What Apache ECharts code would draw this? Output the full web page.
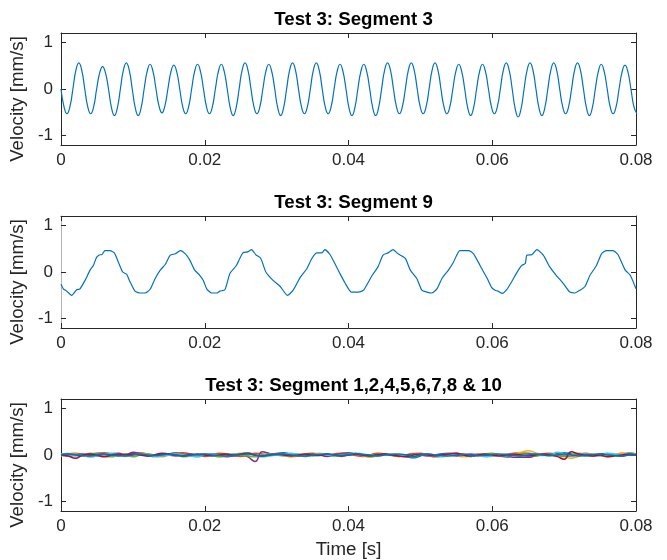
<!DOCTYPE html>
<html>
<head>
<meta charset="utf-8">
<script src="https://cdn.jsdelivr.net/npm/echarts@6/dist/echarts.min.js"></script>
<style>html,body{margin:0;padding:0;background:#fff}#c{width:667px;height:560px}</style>
</head>
<body>
<div id="c"></div>
<script>
// ---------- data ----------
const titles = ['Test 3: Segment 3', 'Test 3: Segment 9', 'Test 3: Segment 1,2,4,5,6,7,8 & 10'];
const yAxisName = 'Velocity [mm/s]';
const xAxisName = 'Time [s]';
const xTicks = [0, 0.02, 0.04, 0.06, 0.08];
const xTickLabels = ['0', '0.02', '0.04', '0.06', '0.08'];
const yTicks = [-1, 0, 1];
const yTickLabels = ['-1', '0', '1'];

// Segment 3: samples every eighth of a period (s)
const seg3Step = 0.000413;
const seg3Values = [
  0,-0.38,-0.53,-0.38,0,0.40,0.56,0.40,
  0,-0.38,-0.53,-0.38,0,0.34,0.48,0.34,
  0,-0.40,-0.57,-0.40,0,0.40,0.56,0.40,
  0,-0.40,-0.57,-0.40,0,0.37,0.53,0.37,
  0,-0.36,-0.51,-0.36,0,0.36,0.51,0.36,
  0,-0.38,-0.53,-0.38,0,0.37,0.53,0.37,
  0,-0.38,-0.53,-0.38,0,0.37,0.53,0.37,
  0,-0.40,-0.57,-0.40,0,0.40,0.56,0.40,
  0,-0.38,-0.53,-0.38,0,0.37,0.53,0.37,
  0,-0.40,-0.57,-0.40,0,0.40,0.56,0.40,
  0,-0.38,-0.53,-0.38,0,0.40,0.56,0.40,
  0,-0.38,-0.53,-0.38,0,0.37,0.53,0.37,
  0,-0.40,-0.57,-0.40,0,0.37,0.53,0.37,
  0,-0.40,-0.57,-0.40,0,0.40,0.56,0.40,
  0,-0.38,-0.53,-0.38,0,0.40,0.56,0.40,
  0,-0.38,-0.53,-0.38,0,0.40,0.56,0.40,
  0,-0.38,-0.53,-0.38,0,0.37,0.53,0.37,
  0,-0.40,-0.57,-0.40,0,0.37,0.53,0.37,
  0,-0.38,-0.53,-0.38,0,0.40,0.56,0.40,
  0,-0.42,-0.60,-0.42,0,0.40,0.56,0.40,
  0,-0.40,-0.57,-0.40,0,0.40,0.56,0.40,
  0,-0.38,-0.53,-0.38,0,0.40,0.56,0.40,
  0,-0.40,-0.57,-0.40,0,0.37,0.53,0.37,
  0,-0.38,-0.53,-0.38,0,0.36,0.51,0.36,
  0,-0.38,-0.53
];

// Segment 9: time (ms) and velocity
const seg9TimeMs = [0,0.32,0.79,1.48,2.18,2.64,3.34,4.04,4.5,4.96,5.43,5.66,6.12,6.82,7.42,7.98,8.58,9.14,9.6,10.3,11.0,11.7,12.4,13.1,13.8,14.5,15.2,15.9,16.6,17.3,17.9,18.6,19.3,19.8,20.27,20.96,21.66,22.1,22.8,23.5,24.4,25.3,26.0,26.5,27.1,27.8,28.5,29.5,30.5,31.5,32.3,33.3,34.2,34.9,35.6,36.3,36.7,37.4,38.1,38.8,39.5,40.4,41.4,42.1,43.3,44.1,44.8,45.5,46.2,46.9,47.9,48.6,49.5,50.2,50.9,51.6,52.3,53.0,53.9,54.6,55.5,56.7,57.4,58.3,59.3,59.9,60.4,60.8,61.4,62.0,62.7,63.4,64.1,64.6,64.8,65.5,66.2,67.1,68.0,68.9,69.9,70.8,71.5,72.2,72.9,73.6,74.5,75.2,75.9,76.8,77.5,78.5,79.2,80.0];
const seg9Values = [-0.26,-0.36,-0.41,-0.50,-0.38,-0.36,-0.18,0.04,0.14,0.32,0.37,0.37,0.46,0.46,0.41,0.21,0.0,-0.05,-0.21,-0.41,-0.45,-0.45,-0.37,-0.14,0.04,0.16,0.36,0.39,0.46,0.39,0.26,0.04,-0.07,-0.18,-0.36,-0.45,-0.45,-0.41,-0.38,-0.03,0.14,0.41,0.43,0.48,0.37,0.29,0.0,-0.18,-0.31,-0.50,-0.39,-0.11,0.07,0.29,0.41,0.41,0.48,0.38,0.18,-0.03,-0.23,-0.43,-0.43,-0.39,-0.07,0.11,0.36,0.41,0.48,0.39,0.29,0.04,-0.14,-0.39,-0.43,-0.45,-0.36,-0.14,0.04,0.21,0.46,0.46,0.39,0.14,-0.14,-0.33,-0.39,-0.41,-0.46,-0.38,-0.21,-0.02,0.14,0.18,0.36,0.37,0.48,0.36,0.11,-0.07,-0.25,-0.43,-0.45,-0.39,-0.31,-0.07,0.14,0.39,0.46,0.46,0.37,0.04,-0.07,-0.36];

// Other segments: sampled every 1 ms
const otherStep = 0.001;
const otherNames = ['Segment 1','Segment 2','Segment 4','Segment 5','Segment 6','Segment 7','Segment 8','Segment 10'];
const seg1 = [0.02,0.03,0.00,-0.02,0.01,0.04,0.02,0.00,-0.02,0.01,
  0.02,0.04,0.01,-0.02,0.00,0.02,0.05,0.02,-0.01,-0.03,
  0.00,0.02,0.00,-0.03,0.01,0.02,0.04,0.00,-0.02,0.02,
  0.03,0.05,0.01,-0.01,-0.03,0.00,0.02,-0.01,0.01,0.03,
  0.05,0.02,0.00,-0.02,0.01,0.02,0.00,-0.02,-0.03,-0.06,
  -0.02,0.02,0.00,0.02,0.04,0.01,-0.01,-0.03,0.00,0.02,
  0.00,-0.02,-0.04,0.00,0.02,0.04,0.01,-0.01,0.02,0.03,
  0.05,0.02,-0.01,-0.02,0.00,0.02,0.03,0.00,-0.02,0.01,
  0.02];
const seg2 = [0.00,0.02,0.04,0.01,-0.01,0.03,0.05,0.02,-0.01,0.02,
  0.04,0.05,0.02,0.00,-0.01,0.02,0.04,0.05,0.02,-0.01,
  -0.03,0.00,0.04,0.02,-0.01,-0.03,0.00,0.04,0.02,-0.01,
  0.02,0.00,-0.03,0.00,0.02,0.04,0.01,-0.01,0.02,0.04,
  0.02,-0.01,-0.03,0.00,0.04,0.02,-0.01,-0.03,0.00,0.02,
  0.04,0.00,-0.04,-0.02,0.02,0.04,0.01,-0.01,0.02,0.00,
  -0.02,0.00,0.02,0.04,0.05,0.02,-0.01,0.02,0.04,0.01,
  -0.01,-0.03,0.02,0.04,0.01,-0.01,-0.03,0.00,0.04,0.02,
  0.00];
const seg4 = [-0.02,0.00,0.02,0.00,-0.04,-0.02,0.00,0.03,0.00,-0.03,
  0.00,0.04,0.02,-0.02,-0.04,0.00,0.02,0.00,-0.03,0.00,
  0.02,0.00,-0.03,-0.04,0.00,0.04,0.02,-0.01,-0.03,0.00,
  0.02,0.00,-0.04,-0.02,0.00,0.02,0.04,0.00,-0.03,0.00,
  0.00,0.03,-0.02,-0.04,0.00,0.02,0.00,-0.03,0.00,0.04,
  0.02,0.00,-0.03,0.00,0.02,0.00,-0.04,-0.02,0.00,0.02,
  0.00,-0.02,0.00,0.03,0.06,0.09,0.05,0.01,-0.01,-0.03,
  -0.04,-0.07,-0.03,0.00,0.02,0.00,-0.02,0.00,0.04,0.02,
  0.00];
const seg5 = [0.00,-0.02,0.00,0.02,0.00,-0.02,0.00,0.02,0.04,0.00,
  0.06,0.03,-0.02,0.00,0.02,0.00,-0.02,0.00,0.02,0.00,
  -0.01,0.02,0.00,-0.03,-0.02,0.00,-0.04,-0.14,0.07,0.03,
  0.00,0.02,0.00,-0.02,0.00,0.02,0.00,-0.03,0.00,0.02,
  0.00,0.02,-0.01,-0.02,0.00,0.02,0.00,-0.02,0.00,0.02,
  0.00,-0.02,0.00,0.02,0.00,-0.02,0.00,0.02,0.00,-0.01,
  0.02,0.00,-0.03,-0.05,-0.05,-0.05,-0.02,0.00,0.02,0.00,
  -0.02,0.00,0.02,0.00,-0.02,0.00,0.02,0.00,-0.02,0.00,
  0.02];
const seg6 = [0.00,0.02,0.00,-0.02,0.04,0.02,-0.02,-0.04,0.00,0.02,
  -0.04,0.00,0.02,0.00,-0.02,0.00,0.02,-0.04,-0.02,0.00,
  0.02,0.00,-0.04,0.00,0.02,0.00,-0.02,-0.04,0.00,0.02,
  0.00,-0.02,0.00,0.02,0.00,-0.02,0.00,0.02,-0.01,-0.03,
  0.00,0.02,0.00,-0.04,-0.02,0.00,0.02,0.00,-0.02,-0.04,
  0.00,0.02,0.00,-0.02,0.00,0.02,0.00,-0.03,0.00,0.02,
  0.04,0.00,-0.02,0.00,0.02,0.00,-0.02,0.00,0.02,0.00,
  -0.02,0.00,0.04,0.00,-0.02,0.00,0.02,0.00,-0.01,0.05,
  0.02];
const seg7 = [0.02,0.00,-0.02,0.00,-0.04,-0.02,0.00,0.04,0.02,-0.02,
  0.00,0.02,0.00,-0.04,-0.02,0.00,0.02,0.00,-0.02,-0.04,
  0.00,0.02,0.00,-0.02,0.00,0.02,0.05,0.00,-0.04,-0.02,
  0.00,0.02,0.04,0.00,-0.02,0.00,0.02,0.00,-0.02,0.00,
  0.00,0.04,0.02,0.00,-0.02,0.00,0.02,0.00,-0.03,0.00,
  0.02,0.00,-0.02,-0.04,0.00,0.02,0.00,-0.02,0.00,-0.04,
  -0.02,0.00,0.02,0.00,-0.02,0.00,0.02,0.00,-0.02,0.06,
  0.03,-0.02,0.00,0.02,0.00,-0.02,0.04,0.02,0.00,0.04,
  0.00];
const seg8 = [0.00,-0.02,-0.07,0.00,0.02,0.00,-0.04,0.00,0.02,0.00,
  0.02,0.00,-0.02,0.00,0.04,0.02,0.00,-0.02,0.00,0.02,
  0.00,-0.02,0.00,0.02,0.00,0.02,0.04,0.00,-0.02,0.00,
  0.02,0.00,-0.02,0.00,0.02,0.00,-0.01,0.02,0.00,-0.02,
  0.00,0.02,0.00,-0.02,0.00,0.02,0.00,-0.02,-0.04,0.00,
  0.02,0.00,-0.02,0.00,0.02,0.04,0.00,-0.02,0.00,0.02,
  0.00,-0.02,0.00,0.02,0.00,-0.02,0.00,0.02,0.00,-0.03,
  -0.09,0.07,0.02,0.00,-0.02,0.00,-0.04,-0.02,0.00,0.02,
  0.00];
const seg10 = [0.00,0.02,0.00,-0.01,-0.02,0.00,0.02,0.00,-0.01,-0.02,
  0.00,0.02,0.00,-0.01,0.00,0.02,0.00,-0.02,0.00,0.01,
  0.02,0.00,-0.01,-0.02,0.00,0.01,0.02,0.00,-0.02,0.00,
  0.01,0.02,0.00,-0.01,-0.02,0.00,0.01,0.02,0.00,-0.01,
  0.00,0.03,0.01,0.00,-0.02,0.00,0.01,0.02,0.00,-0.03,
  0.00,0.02,0.00,-0.01,-0.02,0.00,0.02,0.00,-0.02,0.00,
  0.01,0.02,0.00,-0.01,-0.02,0.00,0.02,0.00,-0.01,0.00,
  0.02,0.00,-0.02,0.00,0.01,0.02,0.00,-0.01,-0.02,0.00,
  0.00];
const otherSegments = [seg1, seg2, seg4, seg5, seg6, seg7, seg8, seg10];

// ---------- styles ----------
const FONT = '"Liberation Sans", Arial, sans-serif';
const AX = '#262626';
const lineColors = ['#0072BD','#D95319','#EDB120','#7E2F8E','#77AC30','#4DBEEE','#A2142F','#0072BD'];
const gridTops = [33, 216, 399];
const GL = 61, GW = 575, GH = 112;

const grids = gridTops.map(t => ({left: GL, top: t, width: GW, height: GH, containLabel: false}));
const xAxes = [], yAxes = [];
gridTops.forEach((t, i) => {
  const base = {
    type: 'value', gridIndex: i, min: 0, max: 0.08,
    axisLine: {show: true, onZero: false, lineStyle: {color: AX, width: 1}},
    axisTick: {show: true, inside: true, length: 5, customValues: xTicks, lineStyle: {color: AX}},
    splitLine: {show: false}
  };
  xAxes.push(Object.assign({}, base, {
    position: 'bottom',
    axisLabel: {show: true, customValues: xTicks, margin: 7, fontSize: 17, color: AX, fontFamily: FONT,
      formatter: v => xTickLabels[xTicks.findIndex(x => Math.abs(x - v) < 1e-9)]},
    name: i === 2 ? xAxisName : '', nameLocation: 'middle', nameGap: 29,
    nameTextStyle: {fontSize: 18.7, color: AX, fontFamily: FONT}
  }));
  xAxes.push(Object.assign({}, base, {position: 'top', axisLabel: {show: false}}));
  const ybase = {
    type: 'value', gridIndex: i, min: -1.2, max: 1.2,
    axisLine: {show: true, onZero: false, lineStyle: {color: i === 1 ? '#b4b4b4' : AX, width: 1}},
    axisTick: {show: true, inside: true, length: 5, customValues: yTicks, lineStyle: {color: AX}},
    splitLine: {show: false}
  };
  yAxes.push(Object.assign({}, ybase, {
    position: 'left',
    axisLabel: {show: true, customValues: yTicks, margin: 8, fontSize: 17, color: AX, fontFamily: FONT,
      formatter: v => yTickLabels[yTicks.findIndex(y => Math.abs(y - v) < 1e-9)]},
    name: yAxisName, nameLocation: 'middle', nameGap: 22, nameRotate: 90,
    nameTextStyle: {fontSize: 18.7, color: AX, fontFamily: FONT, padding: [0, 20, 0, 0]}
  }));
  yAxes.push(Object.assign({}, ybase, {position: 'right', axisLine: {show: true, onZero: false, lineStyle: {color: AX, width: 1}}, axisLabel: {show: false}}));
});

const series = [];
series.push({
  type: 'line', xAxisIndex: 0, yAxisIndex: 0, showSymbol: false, smooth: true,
  lineStyle: {color: '#0072BD', width: 1.2},
  data: seg3Values.map((v, k) => [k * seg3Step, v])
});
series.push({
  type: 'line', xAxisIndex: 2, yAxisIndex: 2, showSymbol: false, smooth: 0.2,
  lineStyle: {color: '#0072BD', width: 1.2},
  data: seg9Values.map((v, k) => [seg9TimeMs[k] / 1000, v])
});
otherSegments.forEach((arr, s) => {
  series.push({
    name: otherNames[s],
    type: 'line', xAxisIndex: 4, yAxisIndex: 4, showSymbol: false, smooth: true,
    lineStyle: {color: lineColors[s], width: 1.5},
    data: arr.map((v, k) => [k * otherStep, v])
  });
});

const chart = echarts.init(document.getElementById('c'), null, {renderer: 'canvas'});
chart.setOption({
  animation: false,
  backgroundColor: '#ffffff',
  title: titles.map((t, i) => ({
    text: t, left: GL + GW / 2, textAlign: 'center', top: gridTops[i] - 28,
    textStyle: {fontSize: 18.7, fontWeight: 'bold', color: '#000', fontFamily: FONT}
  })),
  grid: grids,
  xAxis: xAxes,
  yAxis: yAxes,
  series: series
});
</script>
</body>
</html>
